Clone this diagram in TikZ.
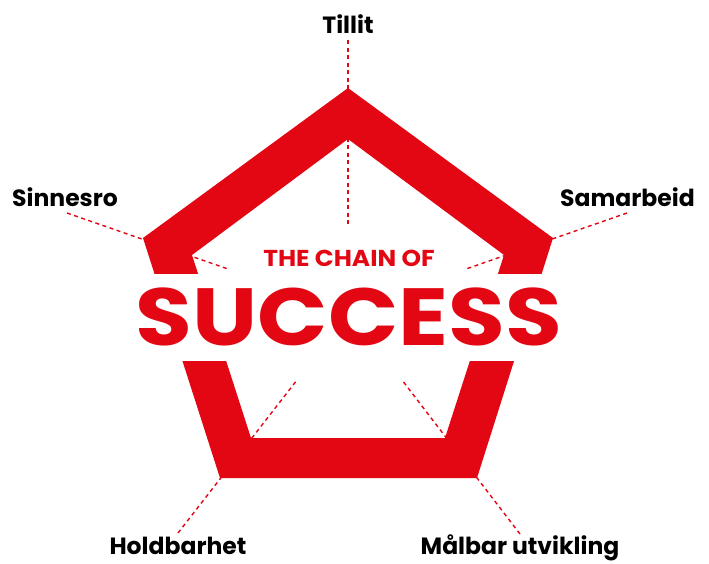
\documentclass[tikz,border=0pt]{standalone}
\usepackage{fontspec}
\setmainfont{Poppins}
\usetikzlibrary{positioning}
\definecolor{chainred}{RGB}{227,6,19}

\begin{document}
\begin{tikzpicture}[x=1pt,y=-1pt,
    label/.style={inner sep=0, font=\bfseries\fontsize{23.5}{23.5}\selectfont, text=black},
    link/.style={chainred, line width=1.4, dash pattern=on 4pt off 3.5pt}]
        \useasboundingbox (0,0) rectangle (709,563);
        % corners %
        \coordinate (ot) at (348,88);
        \coordinate (ol) at (143,238);
        \coordinate (or) at (553,238);
        \coordinate (obl) at (220,478);
        \coordinate (obr) at (477,478);
        \coordinate (it) at (348,139);
        \coordinate (il) at (192,255);
        \coordinate (ir) at (504,255);
        \coordinate (ibl) at (251,438);
        \coordinate (ibr) at (445,438);
        % dash ends %
        \coordinate (tillitend) at (348,40);
        \coordinate (tillitin) at (348,225);
        \coordinate (sinnesroend) at (67,213);
        \coordinate (sinnesroin) at (228,269);
        \coordinate (samarbeidend) at (627,213);
        \coordinate (samarbeidin) at (466,269);
        \coordinate (holdbarhetend) at (178,533);
        \coordinate (holdbarhetin) at (297,380);
        \coordinate (malbarend) at (520,534);
        \coordinate (malbarin) at (402,380);
        % edges %
        \draw[link] (tillitend) -- (tillitin);
        \draw[link] (sinnesroend) -- (sinnesroin);
        \draw[link] (samarbeidend) -- (samarbeidin);
        \draw[link] (holdbarhetend) -- (holdbarhetin);
        \draw[link] (malbarend) -- (malbarin);
        % chain %
        \fill[chainred, even odd rule] (ot) -- (or) -- (obr) -- (obl) -- (ol) -- cycle
              (it) -- (ir) -- (ibr) -- (ibl) -- (il) -- cycle;
        % nodes %
        \node[label, anchor=base] (tillit) at (348,33) {Tillit};
        \node[label, anchor=base west] (sinnesro) at (12,206) {Sinnesro};
        \node[label, anchor=base east] (samarbeid) at (695,206) {Samarbeid};
        \node[label, anchor=base] (holdbarhet) at (178,554) {Holdbarhet};
        \node[label, anchor=base] (malbar) at (520,554) {Målbar utvikling};
        \node[inner sep=0, anchor=base, text=chainred, font=\bfseries\fontsize{23}{23}\selectfont] (chain) at (349,266) {\scalebox{1.08}[1]{THE CHAIN OF}};
        \node[inner ysep=0, inner xsep=14pt, fill=white, text height=71pt, text depth=16pt, anchor=base, text=chainred,
              font=\bfseries\fontsize{81}{81}\selectfont] (success) at (349,345) {\scalebox{1.14}[1]{SUCCESS}};
      \end{tikzpicture}
\end{document}
